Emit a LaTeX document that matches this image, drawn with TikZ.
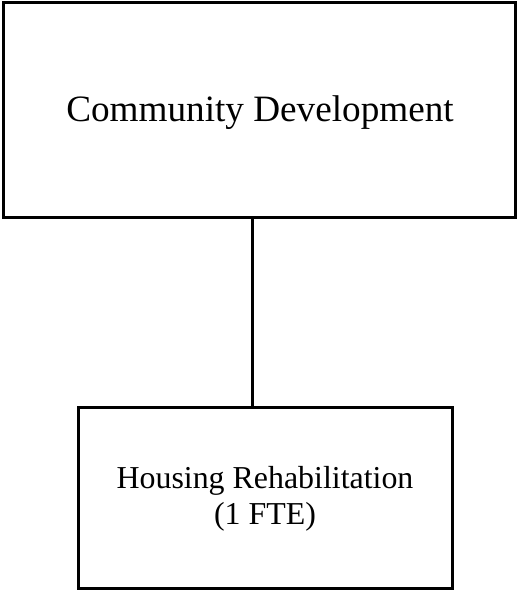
\documentclass[tikz,border=0pt]{standalone}
\usepackage{fontspec}
\setmainfont{Liberation Serif}
\begin{document}
\begin{tikzpicture}[x=1pt,y=1pt,
  box/.style={draw=black,line width=3pt,inner sep=0pt,fill=none},
  conn/.style={draw=black,line width=2.7pt}]
\useasboundingbox (0,0) rectangle (517,590);
\node[box,minimum width=511.6pt,minimum height=214.7pt] (top) at (259.5,479.65) {};
\node[box,minimum width=374pt,minimum height=180.5pt] (bot) at (265,91.75) {};
\node[anchor=base,inner sep=0pt,font=\fontsize{37.2}{40}\selectfont] (toptext) at (260,468.3) {Community Development};
\node[anchor=base,inner sep=0pt,align=center,font=\fontsize{31.9}{36}\selectfont] (bottext) at (265,65) {Housing Rehabilitation\\(1 FTE)};
\draw[conn] (top.south -| 252.7,0) -- (bot.north -| 252.7,0);
\end{tikzpicture}
\end{document}
